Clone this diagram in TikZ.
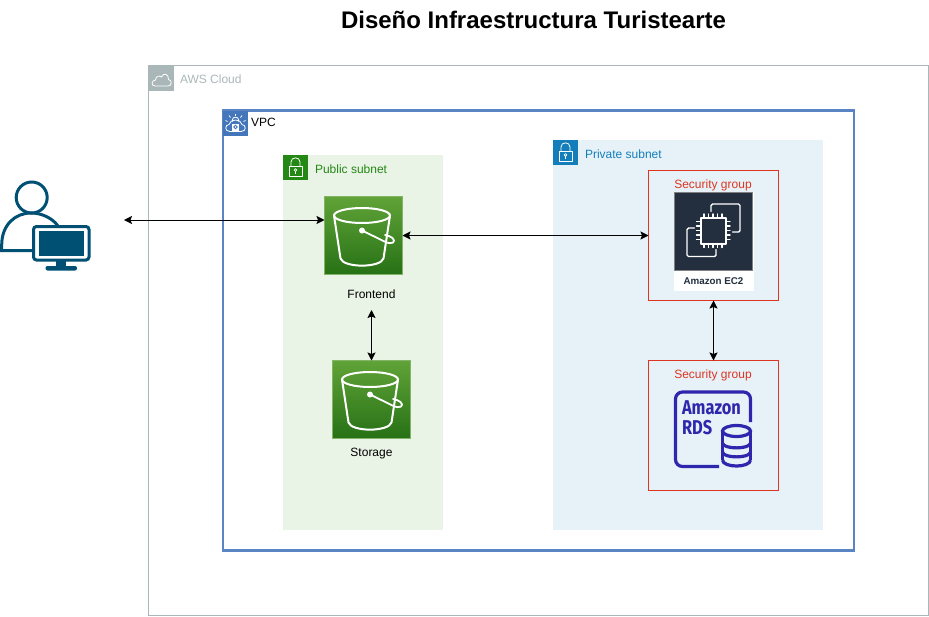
\documentclass[tikz,border=0pt]{standalone}
\usepackage{fontspec}
\setmainfont{Liberation Sans}
\newfontfamily\rdsfont[FakeStretch=0.82]{Fira Sans}
\usetikzlibrary{arrows.meta,positioning}
\definecolor{cloudgray}{HTML}{AAB7B8}
\definecolor{vpcblue}{HTML}{5B84C4}
\definecolor{vpchead}{HTML}{4376BB}
\definecolor{pubgreen}{HTML}{248814}
\definecolor{pubfill}{HTML}{E9F3E6}
\definecolor{privblue}{HTML}{147EBA}
\definecolor{privfill}{HTML}{E6F2F8}
\definecolor{sgred}{HTML}{DD3522}
\definecolor{ecdark}{HTML}{232F3E}
\definecolor{rdsblue}{HTML}{2E27AD}
\definecolor{userblue}{HTML}{005073}
\definecolor{s3top}{HTML}{60A337}
\definecolor{s3bot}{HTML}{277116}
\definecolor{s3line}{HTML}{82B366}
\tikzset{
  x=1pt,y=-1pt,
  every node/.style={font=\fontsize{12}{14}\selectfont,inner sep=0pt,outer sep=0pt},
  >={Stealth[length=8pt,width=8pt,inset=1.5pt]},
  conn/.style={<->,black,line width=1pt},
  area/.style={anchor=north west,rectangle},
  headbox/.style={anchor=north west,rectangle,minimum width=25pt,minimum height=25pt},
  lab/.style={anchor=west},
  sgbox/.style={area,draw=sgred,line width=1pt,fill=none,minimum width=130pt,minimum height=130pt},
  sglab/.style={text=sgred},
  s3/.style={area,draw=s3line,line width=.8pt,top color=s3top,bottom color=s3bot,minimum width=78pt,minimum height=78pt},
  icon/.style={white,line width=2pt,line join=round,line cap=round},
  thinicon/.style={white,line width=.8pt,line join=round},
  lockpic/.pic={
    \draw[thinicon] (6,11) rectangle (19,21.5);
    \draw[thinicon] (8,11) -- (8,7) .. controls (8,1.5) and (17,1.5) .. (17,7) -- (17,11);
    \draw[thinicon] (12.5,15) circle (1.4);
    \draw[thinicon] (12.5,16.4) -- (12.5,19);
  },
  bucketpic/.pic={
    \draw[icon] (37.5,19) ellipse (28 and 7.5);
    \draw[icon] (9.5,19) -- (16,62) .. controls (19,71.5) and (56,71.5) .. (59,62) -- (65.5,19);
    \fill[white] (37.5,34) circle (3);
    \draw[icon,line width=1.8pt] (37.5,34) -- (60,45) .. controls (68,49) and (72,45) .. (68,41.5) .. controls (66.5,40.2) and (63,38.8) .. (60.5,38.5);
  }
}
\begin{document}
\begin{tikzpicture}
\useasboundingbox (0,0) rectangle (929,616);
% title
\node[font=\bfseries\fontsize{24}{28}\selectfont] (title) at (533.5,20) {Diseño Infraestructura Turistearte};
% AWS Cloud
\node[area,draw=cloudgray,line width=1pt,minimum width=780pt,minimum height=550pt] (aws) at (148.5,65.5) {};
\node[headbox,fill=cloudgray] (awshead) at (148.5,65.5) {};
\draw[white,line width=.8pt,line join=round] (155,86) .. controls (151,86) and (151,80.5) .. (155.5,80)
  .. controls (155.5,76) and (160,75) .. (161.5,77) .. controls (163,72.5) and (169,73.5) .. (168.5,79.5)
  .. controls (172.5,80) and (172,86) .. (168,86) -- cycle;
\node[lab,text=cloudgray] (awslab) at (180,79) {AWS Cloud};
% VPC
\node[area,draw=vpcblue,line width=2.4pt,minimum width=631pt,minimum height=440pt] (vpc) at (223,110.5) {};
\node[headbox,fill=vpchead] (vpchd) at (223,110.5) {};
\begin{scope}[shift={(223,110.5)}]
  \draw[thinicon] (7,21) .. controls (1,21) and (2,14) .. (6,14) .. controls (7,8) and (18,8) .. (19,14) .. controls (23,14) and (24,21) .. (18,21) -- cycle;
  \fill[white] (9,13) rectangle (16,20);
  \draw[vpchead,line width=.8pt] (12.5,16.5) circle (1.8);
  \draw[thinicon] (9.5,11) -- (9.5,9) .. controls (9.5,6) and (15.5,6) .. (15.5,9) -- (15.5,11);
  \foreach \a/\b/\c/\d in {12.5/3/12.5/5.5, 6/5/7.5/7, 19/5/17.5/7, 2.5/10/4.5/11, 22.5/10/20.5/11}
    \draw[thinicon] (\a,\b) -- (\c,\d);
\end{scope}
\node[lab] (vpclab) at (251,122) {VPC};
% Public subnet
\node[area,fill=pubfill,minimum width=160pt,minimum height=375pt] (pub) at (283,155) {};
\node[headbox,fill=pubgreen] (pubhd) at (283,155) {};
\pic at (283,155) {lockpic};
\node[lab,text=pubgreen] (publab) at (315,169) {Public subnet};
% Private subnet
\node[area,fill=privfill,minimum width=270pt,minimum height=390pt] (priv) at (553,140) {};
\node[headbox,fill=privblue] (privhd) at (553,140) {};
\pic at (553,140) {lockpic};
\node[lab,text=privblue] (privlab) at (585,154) {Private subnet};
% Security groups
\node[sgbox] (sg1) at (648.5,170.5) {};
\node[sglab] (sg1lab) at (713,185) {Security group};
\node[sgbox] (sg2) at (648.5,360.5) {};
\node[sglab] (sg2lab) at (713,375) {Security group};
% S3
\node[s3] (frontend) at (324.5,196.5) {};
\pic at (324.5,196.5) {bucketpic};
\node (frontlab) at (371.5,294.5) {Frontend};
\node[s3] (storage) at (332.5,360.5) {};
\pic at (332.5,360.5) {bucketpic};
\node (storlab) at (371.5,454) {Storage};
% EC2
\node[area,fill=white,minimum width=80pt,minimum height=99pt] (ecback) at (673.5,191.5) {};
\node[area,fill=ecdark,draw=gray,line width=.6pt,minimum width=78pt,minimum height=78pt] (ec2) at (674.5,192.5) {};
\node[font=\bfseries\fontsize{9.8}{11}\selectfont,text=ecdark] (eclab) at (713.5,281) {Amazon EC2};
\begin{scope}[shift={(674.5,192.5)},white,line width=1.4pt,line join=round,line cap=round]
  \draw[rounded corners=1.5pt] (36.5,19) -- (36.5,11.5) -- (65.5,11.5) -- (65.5,39.5) -- (58,39.5);
  \draw[rounded corners=1.5pt] (20,35.5) -- (12.5,35.5) -- (12.5,64) -- (41.5,64) -- (41.5,57);
  \draw[line width=2pt] (26,25.5) rectangle (51.5,51);
  \foreach \t in {29.5,34,38.5,43,47.5}{
    \draw (\t,21.5) -- (\t,25.5);
    \draw (\t,51) -- (\t,55);
    \draw (22,\t-0.5) -- (26,\t-0.5);
    \draw (51.5,\t-0.5) -- (55.5,\t-0.5);
  }
\end{scope}
% RDS
\begin{scope}[rdsblue,line width=3.2pt,line cap=butt]
  \draw[rounded corners=7pt] (719,466.5) -- (675.5,466.5) -- (675.5,392) -- (750.5,392) -- (750.5,422);
  \draw (722.5,431) -- (722.5,460);
  \draw (750.5,431) -- (750.5,460);
  \draw (736.5,431) ellipse (14 and 5.5);
  \draw (722.5,443) .. controls (723,449.5) and (750,449.5) .. (750.5,443);
  \draw (722.5,452) .. controls (723,458.5) and (750,458.5) .. (750.5,452);
  \draw (722.5,460) .. controls (723,468) and (750,468) .. (750.5,460);
\end{scope}
\node[anchor=west,text=rdsblue,font=\rdsfont\bfseries\fontsize{20}{22}\selectfont] (rds1) at (682,407.5) {Amazon};
\node[anchor=west,text=rdsblue,font=\rdsfont\bfseries\fontsize{20}{22}\selectfont] (rds2) at (682,427.5) {RDS};
% User
\node[rectangle,minimum width=124pt,minimum height=80pt,anchor=north west] (user) at (0,180) {};
\begin{scope}[userblue]
  \draw[line width=3pt] (31.7,197.5) circle (15.5);
  \draw[line width=3pt] (33,250.5) -- (1.7,250.5) -- (1.7,245) .. controls (1.7,225) and (15,213) .. (31,213) .. controls (43,213) and (53,219) .. (58,226);
  \filldraw[fill=white,draw=userblue,line width=3pt,rounded corners=3pt] (33.5,226.5) rectangle (89,260);
  \fill (39,231) rectangle (83.5,256);
  \fill (56,261) rectangle (66,267);
  \fill[rounded corners=2pt] (45.5,266) rectangle (77,270.5);
\end{scope}
% connectors
\draw[conn] (user.east) -- (frontend.west |- user.east);
\draw[conn] (frontend.east) -- (sg1.west |- frontend.east);
\coordinate (frontdown) at (371.5,310);
\draw[conn] (frontdown) -- (storage.north -| frontdown);
\draw[conn] (sg1.south) -- (sg2.north);
\end{tikzpicture}
\end{document}
